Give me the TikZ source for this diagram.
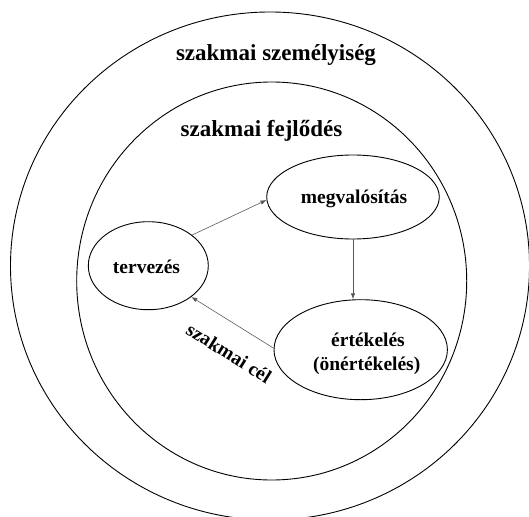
\documentclass[tikz,border=0pt]{standalone}
\usepackage{fontspec}
\setmainfont{Liberation Serif}
\usetikzlibrary{shapes.geometric,arrows.meta}

\tikzset{
  ring/.style={draw,black,line width=0.9bp,ellipse,inner sep=0pt},
  flow/.style={draw,gray!70!black,line width=0.6bp,-{Latex[length=6bp,width=4.5bp]}},
  big/.style={font=\fontsize{23bp}{26bp}\selectfont\bfseries,inner sep=0pt},
  small/.style={font=\fontsize{19.5bp}{24bp}\selectfont\bfseries,inner sep=0pt},
}

\begin{document}
\begin{tikzpicture}[x=1bp,y=-1bp]
    \useasboundingbox (0,0) rectangle (529,517);
    \clip (0,0) rectangle (529,517);
    \node [ring,minimum width=519bp,minimum height=508bp] (szemely) at (270,266) {};
    \node [ring,minimum width=390bp,minimum height=398bp] (fejlodes) at (271.7,281) {};
    \node [big,anchor=base] (szemelytxt) at (276,60.7) {szakmai személyiség};
    \node [big,anchor=base] (fejlodestxt) at (261.5,137) {szakmai fejlődés};
    \node [ring,minimum width=120bp,minimum height=88bp] (terv) at (148.3,265.7) {};
    \node [ring,minimum width=172.6bp,minimum height=84bp] (megval) at (353,197) {};
    \node [ring,minimum width=173.4bp,minimum height=100bp] (ertek) at (360.7,349.7) {};
    \node [small,anchor=base] (tervtxt) at (146.5,273) {tervezés};
    \node [small,anchor=base] (megvaltxt) at (354,204) {megvalósítás};
    \node [small,anchor=base] (ertektxt) at (368,346) {értékelés};
    \node [small,anchor=base] (onertektxt) at (366.7,370) {(önértékelés)};
    \draw [flow] (terv.35) -- (megval.182);
    \draw [flow] (megval.south) -- (megval.south |- ertek.north);
    \draw [flow] (ertek.179) -- (terv.-36);
    \node [small,rotate=-32] (cel) at (229,353) {szakmai cél};
\end{tikzpicture}
\end{document}
